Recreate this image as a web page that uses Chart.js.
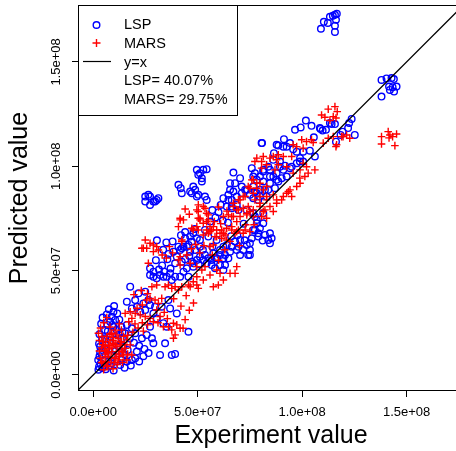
<!DOCTYPE html>
<html>
<head>
<meta charset="utf-8">
<script src="https://cdn.jsdelivr.net/npm/chart.js@4"></script>
<style>
  html, body { margin: 0; padding: 0; overflow: hidden; background: #fff; }
</style>
</head>
<body>
<canvas id="scatter" width="470" height="451"></canvas>
<script>
// values are in millions (axis labels show the raw scale)
const tickValues = [0, 50, 100, 150];
const tickLabels = ["0.0e+00", "5.0e+07", "1.0e+08", "1.5e+08"];
const legendLabels = ["LSP", "MARS", "y=x", "LSP= 40.07%", "MARS= 29.75%"];
const refLine = [[-10, -10], [190, 190]];

// [experiment, predicted]
const lspPoints = [
  [109.0,165.9],[110.4,169.2],[112.3,168.7],[113.3,171.6],[114.7,172.1],[115.7,172.6],[116.6,173.1],[116.2,170.2],[115.7,167.3],[115.7,164.4],
  [138.0,141.4],[140.4,142.1],[142.8,142.3],[143.9,141.8],[141.6,138.2],[143.3,137.9],[145.2,138.2],[144.0,135.8],[142.0,136.6],[138.0,133.4],
  [101.8,121.9],[99.3,118.6],[96.6,117.5],[104.5,119.4],[108.8,117.9],[109.8,117.1],[111.4,117.5],[114.1,120.2],[115.7,120.2],[122.5,120.7],
  [123.7,122.7],[122.0,118.3],[119.4,116.6],[118.4,115.0],[125.2,115.0],[116.2,111.8],[105.6,113.9],[91.3,113.0],[80.8,111.1],[91.0,109.4],
  [88.6,109.9],[92.6,109.4],[94.2,111.1],[95.7,108.2],[97.4,107.0],[100.5,107.0],[103.7,107.5],[106.1,104.7],[99.0,103.9],[100.5,102.3],
  [97.4,101.5],[86.5,106.3],[86.2,103.1],[89.4,102.3],[91.8,100.3],[95.0,99.8],[83.8,99.8],[81.4,98.3],[77.4,96.7],[75.9,99.1],
  [79.8,95.1],[84.6,95.1],[87.8,96.7],[91.0,98.3],[92.6,95.1],[88.6,92.7],[84.6,91.9],[81.4,92.7],[78.3,93.5],[87.0,89.5],
  [82.2,88.7],[77.4,87.9],[79.8,85.5],[78.3,72.7],[81.4,72.7],[76.6,69.5],[79.0,67.9],[82.2,67.1],[84.6,67.9],[85.4,65.5],
  [83.8,64.7],[81.1,64.4],[84.6,63.1],[75.0,59.9],[75.0,57.5],[79.8,70.3],[80.6,111.1],[98.9,102.3],[94.2,99.1],[89.4,99.8],
  [84.6,98.3],[86.2,95.1],[87.8,93.5],[90.2,94.3],[81.4,97.5],[76.6,95.1],[70.3,94.3],[67.1,97.0],[67.9,91.9],[71.1,90.3],
  [65.5,88.7],[62.3,84.7],[64.7,83.9],[66.3,80.7],[68.7,81.5],[72.7,88.7],[76.6,90.3],[79.8,88.7],[83.8,88.7],[83.0,85.5],
  [79.0,83.9],[81.4,77.5],[77.4,75.9],[113.3,120.7],[108.5,118.3],[40.8,91.1],[41.9,89.5],[42.4,87.1],[47.2,87.1],[48.8,88.7],
  [47.9,90.3],[50.3,86.3],[52.0,92.7],[27.2,85.5],[28.8,83.1],[30.4,83.9],[31.2,84.7],[65.5,91.9],[67.1,87.9],[64.7,86.3],
  [66.3,83.9],[68.7,85.5],[71.1,87.1],[73.5,88.7],[75.0,86.3],[76.6,84.7],[78.3,87.1],[63.9,80.7],[66.3,79.9],[69.5,79.1],
  [73.5,79.1],[76.6,77.5],[78.3,74.3],[77.4,69.5],[79.0,66.3],[75.9,65.5],[70.3,64.7],[67.9,63.9],[66.3,61.5],[69.5,61.5],
  [71.8,59.9],[74.2,57.5],[75.0,63.1],[65.5,59.1],[63.1,57.5],[60.7,57.5],[59.1,55.9],[60.7,52.7],[63.1,52.7],[64.7,55.9],
  [56.7,52.7],[54.3,53.5],[52.7,55.1],[49.6,55.1],[47.2,54.3],[47.9,51.9],[44.8,51.1],[43.2,49.5],[45.6,47.1],[41.6,47.1],
  [39.2,47.1],[37.6,45.5],[35.2,47.1],[32.0,47.9],[30.4,46.4],[28.8,49.5],[27.2,51.1],[40.0,56.7],[41.6,59.9],[43.2,61.5],
  [40.8,61.5],[38.4,59.1],[39.2,53.5],[42.4,54.3],[46.4,66.3],[47.9,67.9],[49.6,65.5],[47.2,63.9],[44.0,65.5],[45.6,62.3],
  [51.1,61.5],[27.2,81.5],[49.6,98.3],[51.1,96.7],[52.7,98.3],[54.3,98.6],[52.0,94.3],[50.3,95.9],[46.4,87.9],[49.6,85.5],
  [53.5,85.5],[54.3,83.9],[24.9,85.5],[26.4,86.3],[24.9,83.1],[29.6,83.1],[42.4,60.7],[44.8,61.5],[46.4,59.1],[48.8,59.9],
  [51.1,56.7],[55.1,55.9],[57.5,58.3],[60.7,59.9],[62.3,61.5],[87.8,110.3],[51.1,64.7],[53.5,69.5],[55.1,66.3],[59.1,64.7],
  [63.9,62.3],[68.7,59.9],[70.3,57.5],[73.5,62.3],[62.3,55.9],[56.7,55.1],[58.3,51.1],[62.3,50.3],[27.2,47.9],[28.8,47.1],
  [33.6,47.1],[36.8,48.7],[17.7,42.3],[21.7,39.1],[24.9,39.9],[20.1,35.9],[16.1,35.1],[18.5,31.9],[20.9,32.7],[22.5,30.3],
  [24.0,34.3],[24.9,31.1],[26.4,35.9],[27.2,33.5],[29.6,32.7],[28.8,29.5],[30.4,27.1],[32.8,32.7],[36.0,35.9],[36.8,31.9],
  [40.0,29.5],[45.6,20.7],[9.7,30.3],[8.9,27.9],[8.1,25.5],[10.5,26.4],[9.7,23.1],[11.3,21.6],[12.1,19.2],[13.7,17.6],
  [15.3,20.0],[16.1,24.0],[18.5,22.4],[20.1,20.0],[23.3,17.6],[25.6,19.2],[28.1,17.6],[28.8,15.2],[27.2,23.1],[34.4,15.2],
  [33.6,24.8],[35.2,23.1],[32.0,9.6],[37.6,9.6],[39.2,10.1],[20.9,11.2],[20.1,8.0],[18.5,7.2],[16.1,6.4],[13.7,7.2],
  [11.3,6.4],[8.9,5.6],[5.7,7.2],[4.2,9.6],[3.3,13.6],[4.2,16.8],[5.7,17.6],[8.1,18.4],[10.5,16.8],[12.1,13.6],
  [4.9,4.8],[7.3,6.4],[5.7,21.6],[5.7,14.4],[3.3,11.0],[4.3,3.4],[8.1,4.3],[12.9,4.8],[2.4,7.2],[14.4,13.4],
  [9.1,24.0],[3.0,19.5],[2.8,15.0],[3.5,5.5],[2.5,2.5],
  [3.8,24.5],[4.5,27.5],[6.5,29.0],[7.5,31.5],[10.0,33.0],[11.5,29.5],[12.5,26.5],[13.5,23.0],[14.0,20.5],[6.8,24.0],
  [7.0,21.0],[6.2,12.5],[9.0,9.8],[10.8,11.5],[14.8,10.0],[16.5,12.0],[17.5,17.5],[19.5,15.5],[22.0,14.0],[24.5,12.5],
  [26.5,10.5],[3.0,9.0],[2.8,4.0],[6.0,2.8],[9.8,2.2],[15.0,3.5],[18.0,4.5],[22.0,6.5],[24.0,9.0],
  [30.0,55.0],[33.0,52.5],[35.5,55.5],[31.5,50.5],[34.0,49.5],[37.0,51.0],[36.0,58.0],[33.5,60.0],[30.5,64.5],[35.0,63.5],
  [38.0,64.0],[44.0,55.5],[46.0,57.0],[48.0,53.5],[50.5,53.0],[53.5,57.5],[52.5,60.0],[57.0,61.5],[58.5,56.0],[44.0,68.5],
  [42.0,67.0],[48.5,70.0],[56.0,73.5],[58.5,75.5],[60.0,78.0],[62.0,74.0],[57.0,79.0],[61.0,81.5],[64.5,73.0],[66.0,66.5],
  [69.0,67.0],[72.0,72.5],[72.5,64.5]
];

const marsPoints = [
  [138.0,114.2],[138.0,110.7],[141.2,116.6],[142.0,115.0],[143.3,114.2],[145.2,115.5],[144.4,109.9],[141.6,113.6],
  [112.5,127.4],[115.7,128.6],[116.8,126.2],[109.3,124.6],[110.9,123.5],[114.9,123.8],[116.2,123.1],[113.3,121.9],
  [119.6,114.2],[121.3,115.0],[116.5,110.3],[99.8,112.7],[102.1,111.8],[104.5,112.7],[100.5,108.7],[97.4,109.4],
  [106.1,98.3],[102.9,96.7],[101.3,95.1],[98.9,94.3],[97.4,90.3],[94.2,88.7],[92.6,87.1],[95.0,85.5],[90.2,83.9],
  [87.8,82.3],[84.6,80.7],[82.2,79.1],[86.2,78.3],[79.8,80.7],[80.6,75.9],[83.0,75.1],[76.6,75.9],[73.5,76.7],
  [70.3,75.9],[67.1,75.9],[64.7,76.7],[62.3,75.9],[78.3,103.9],[81.4,104.7],[84.6,103.9],[87.8,103.1],[88.6,100.7],
  [83.0,100.7],[80.6,99.1],[77.4,102.3],[75.9,93.5],[78.3,91.9],[74.2,90.3],[78.3,89.5],[81.4,88.7],[76.6,87.1],
  [79.8,85.5],[77.4,83.9],[71.8,85.5],[70.3,83.9],[67.1,82.3],[71.8,79.9],[74.2,80.7],[69.5,79.1],[75.0,78.3],
  [95.7,110.3],[105.3,111.4],[110.1,111.1],[112.5,113.4],[114.9,114.2],[118.9,114.2],[122.8,113.4],[116.2,109.4],
  [95.0,104.7],[91.0,104.7],[88.6,105.5],[92.6,99.8],[99.0,98.3],[100.5,101.5],[102.1,99.8],[99.0,91.9],[95.7,96.7],
  [93.4,87.9],[91.0,85.5],[83.0,90.3],[87.8,83.9],[81.4,78.3],[76.6,79.1],[83.0,85.5],
  [50.3,81.5],[52.7,80.7],[49.6,79.1],[55.1,76.7],[51.1,74.3],[52.7,72.7],[54.3,73.5],[55.9,71.1],[56.7,69.5],
  [59.1,69.5],[61.5,69.5],[63.9,70.3],[66.3,69.5],[69.5,69.5],[72.7,69.5],[75.0,68.7],[67.9,67.9],[63.1,67.1],
  [61.5,65.5],[59.1,66.3],[55.1,67.9],[52.7,67.1],[41.6,74.3],[40.8,71.1],[30.4,61.5],[28.8,59.1],[27.2,63.1],
  [42.4,63.9],[44.8,57.5],[40.8,55.1],[41.6,52.7],[46.4,53.5],[49.6,51.9],[52.0,50.3],[53.5,51.9],[55.9,47.9],
  [59.1,50.3],[60.7,48.7],[62.3,45.5],[52.7,45.5],[49.6,47.1],[47.9,44.7],[45.6,43.1],[42.4,42.3],[39.2,42.3],
  [36.0,43.1],[34.4,42.3],[57.5,42.3],[59.9,43.1],[65.5,48.7],[67.9,48.7],[68.7,51.9],
  [53.5,79.9],[50.3,78.3],[54.3,77.5],[51.1,75.1],[47.2,70.3],[50.3,69.5],[57.5,71.1],[55.9,68.7],[62.3,67.9],
  [24.9,64.7],[24.0,60.7],[25.6,60.7],[28.8,62.3],[42.4,64.7],[41.6,56.7],
  [41.6,75.1],[43.2,74.3],[50.3,75.1],[49.6,71.1],[47.9,69.5],[55.1,74.3],[54.3,69.5],[58.3,66.3],[31.2,59.9],
  [26.4,53.5],[23.3,60.7],[60.7,67.9],[66.3,71.1],[68.7,68.7],[71.8,67.9],[63.9,64.7],[55.9,61.5],[57.5,62.3],
  [68.7,73.5],[73.5,77.5],[79.8,82.3],[83.0,83.9],[86.2,86.3],[80.6,102.3],[86.2,104.7],[87.0,98.3],[76.6,93.5],
  [75.0,89.5],[79.8,91.9],[72.7,85.5],[69.5,83.9],[67.1,80.7],[66.3,75.9],[68.7,79.1],
  [2.5,20.0],[4.2,18.4],[4.9,16.0],[5.7,13.6],[6.5,11.2],[7.3,8.8],[5.7,8.8],[8.1,16.8],[9.7,15.2],[11.3,13.6],
  [12.1,11.2],[13.7,12.0],[15.3,12.8],[14.5,9.6],[10.5,8.0],[8.9,11.2],[7.3,14.4],[6.5,18.4],[8.9,20.0],[11.3,19.2],
  [12.9,16.0],[16.1,16.8],[17.7,14.4],[18.5,9.6],[12.1,7.2],[4.9,5.6],[15.3,29.5],[17.7,30.3],[20.1,29.5],[22.5,28.8],
  [24.9,28.0],[27.2,27.1],[18.5,27.1],[25.6,35.9],[27.2,36.7],[29.6,35.9],[31.2,34.3],[32.8,36.7],[30.4,31.1],[32.0,28.0],
  [33.6,23.1],[28.8,25.5],[28.1,42.3],[30.4,43.1],[37.6,41.5],[40.8,40.7],[36.0,23.1],[38.4,24.8],[37.6,21.6],[39.2,19.2],
  [38.4,17.6],[41.6,22.4],[40.0,24.0],[43.0,22.4],[16.1,7.2],[46.4,42.3],[49.6,43.1],[50.3,41.5],
  [5.0,2.5],[7.0,4.0],[9.5,3.0],[6.0,6.5],
  [3.5,22.5],[5.0,25.0],[6.5,27.5],[8.0,23.0],[9.5,18.0],[10.5,21.5],[12.5,24.5],[13.5,21.5],[14.5,18.5],[16.5,19.0],
  [7.5,12.5],[9.0,13.0],[11.0,10.0],[13.0,14.5],[6.0,10.0],[4.0,13.0],[3.5,8.0],[8.5,6.0],[11.5,5.0],[14.0,6.0],
  [19.0,20.5],[21.5,22.5],[20.0,24.5],[23.5,25.0],[26.0,24.0],[24.0,21.0],[17.0,25.5],[21.0,32.0],[23.5,33.5],[19.5,38.5],
  [23.0,40.5],[26.0,39.0],[34.0,30.0],[35.5,27.0],[31.0,25.0],[44.0,26.5],[46.0,31.0],[48.0,34.5],[42.0,33.0],[38.5,36.5],
  [44.5,38.0],[35.0,56.0],[38.0,58.5],[36.5,61.5],[33.0,57.5],[47.0,60.5],[49.0,62.5],[53.0,62.0],[51.0,58.5],[57.0,57.5],
  [60.0,55.0],[63.0,60.0],[65.5,64.0],[70.0,62.0],[73.0,72.0],[77.0,72.0],[46.0,77.0],[44.0,79.5],[58.0,73.5],[61.0,72.5],
  [64.0,78.5],[60.0,80.5],
  [3.0,16.5],[4.5,14.5],[5.5,11.8],[7.0,10.5],[8.0,14.0],[9.5,16.5],[10.5,14.5],[12.0,17.5],[13.5,15.5],[15.0,14.5],
  [4.0,6.0],[6.5,4.5],[8.5,8.5],[10.0,6.0],[12.5,9.0],[14.0,11.0],[16.5,10.0],[3.0,11.5],[6.0,16.0],[8.0,19.5]
];

const fontFamily = "'Liberation Sans', Arial, Helvetica, sans-serif";
Chart.defaults.font.family = fontFamily;
Chart.defaults.color = "#000";

const toXY = (p) => ({ x: p[0], y: p[1] });

// plot frame, rotated y tick labels and the legend box
const framePlugin = {
  id: "frame",
  afterDatasetsDraw(chart) {
    const ctx = chart.ctx;
    const a = chart.chartArea;
    ctx.save();
    ctx.strokeStyle = "#000";
    ctx.lineWidth = 1;
    ctx.strokeRect(a.left - 0.5, a.top - 0.5, a.right - a.left + 1, a.bottom - a.top + 1);

    // legend
    const lx = a.left - 0.5, ly = a.top - 0.5;
    ctx.fillStyle = "#fff";
    ctx.fillRect(lx, ly, 159, 110);
    ctx.strokeRect(lx, ly, 159, 110);
    const rowY = [24, 43, 61.5, 80, 98.5];
    ctx.font = "14.5px " + fontFamily;
    ctx.fillStyle = "#000";
    ctx.textBaseline = "middle";
    ctx.textAlign = "left";
    legendLabels.forEach((t, i) => ctx.fillText(t, 124, rowY[i] + 1));
    ctx.lineWidth = 1.4;
    ctx.strokeStyle = "#0000ff";
    ctx.beginPath();
    ctx.arc(96.5, rowY[0] + 1, 3.3, 0, Math.PI * 2);
    ctx.stroke();
    ctx.strokeStyle = "#ff0000";
    ctx.beginPath();
    ctx.moveTo(92.5, rowY[1]); ctx.lineTo(100.5, rowY[1]);
    ctx.moveTo(96.5, rowY[1] - 4); ctx.lineTo(96.5, rowY[1] + 4);
    ctx.stroke();
    ctx.strokeStyle = "#000";
    ctx.lineWidth = 1.2;
    ctx.beginPath();
    ctx.moveTo(83, rowY[2]); ctx.lineTo(111, rowY[2]);
    ctx.stroke();

    // y tick labels, read bottom to top
    const ys = chart.scales.y;
    ctx.font = "13px " + fontFamily;
    ctx.textAlign = "center";
    ctx.textBaseline = "alphabetic";
    tickValues.forEach((v, i) => {
      ctx.save();
      ctx.translate(60, ys.getPixelForValue(v));
      ctx.rotate(-Math.PI / 2);
      ctx.fillText(tickLabels[i], 0, 0);
      ctx.restore();
    });
    ctx.restore();
  },
};

const axisGrid = { drawOnChartArea: false, drawTicks: true, tickLength: 7, color: "#000", lineWidth: 1 };

new Chart(document.getElementById("scatter"), {
  type: "scatter",
  data: {
    datasets: [
      {
        label: "y=x",
        type: "line",
        data: refLine.map(toXY),
        borderColor: "#000",
        borderWidth: 1.3,
        pointRadius: 0,
        order: 0,
      },
      {
        label: "MARS",
        data: marsPoints.map(toXY),
        pointStyle: "cross",
        pointRadius: 3.8,
        borderColor: "#ff0000",
        borderWidth: 1.4,
        order: 1,
      },
      {
        label: "LSP",
        data: lspPoints.map(toXY),
        pointStyle: "circle",
        pointRadius: 3.3,
        borderColor: "#0000ff",
        backgroundColor: "rgba(0,0,0,0)",
        borderWidth: 1.4,
        order: 2,
      },
    ],
  },
  options: {
    responsive: false,
    animation: false,
    events: [],
    layout: { padding: { top: 6, right: 7, left: 0, bottom: 0 } },
    plugins: { legend: { display: false }, tooltip: { enabled: false } },
    scales: {
      x: {
        type: "linear",
        min: -6.8,
        max: 177,
        afterFit: (s) => { s.height = 61; },
        afterBuildTicks: (s) => { s.ticks = tickValues.map((v) => ({ value: v })); },
        ticks: {
          callback: (v, i) => tickLabels[i],
          font: { size: 13 },
          color: "#000",
          padding: 8,
          maxRotation: 0,
          autoSkip: false,
        },
        grid: axisGrid,
        border: { display: false },
        title: { display: true, text: "Experiment value", font: { size: 25 }, color: "#000", padding: 0 },
      },
      y: {
        type: "linear",
        min: -7.2,
        max: 176.8,
        afterFit: (s) => { s.width = 79; },
        afterBuildTicks: (s) => { s.ticks = tickValues.map((v) => ({ value: v })); },
        ticks: { display: false },
        grid: axisGrid,
        border: { display: false },
        title: { display: true, text: "Predicted value", font: { size: 25 }, color: "#000", padding: { top: 5, bottom: 0 } },
      },
    },
  },
  plugins: [framePlugin],
});
</script>
</body>
</html>
